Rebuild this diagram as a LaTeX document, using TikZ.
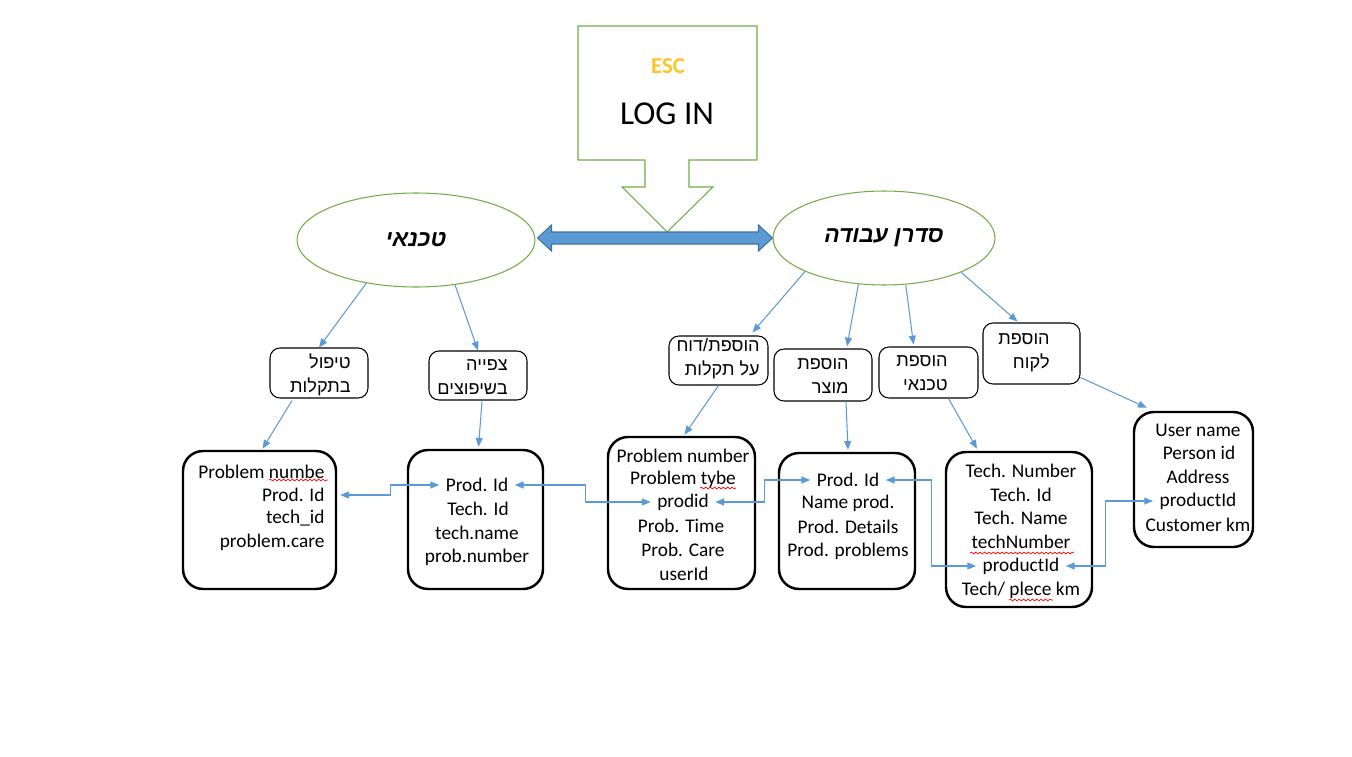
\documentclass[tikz,border=0pt]{standalone}
\usepackage{fontspec}
\setmainfont{Carlito}
\newfontfamily\hebfont[Script=Hebrew]{Liberation Sans}
\TeXXeTstate=1
\newcommand\heb[1]{{\hebfont\beginR #1\endR}}
\usetikzlibrary{shapes.geometric,arrows.meta,calc,fit,decorations.pathmorphing}
\definecolor{escgreen}{HTML}{70AD47}
\definecolor{linkblue}{HTML}{5B9BD5}
\definecolor{darkblue}{HTML}{41719C}
\definecolor{escyellow}{HTML}{FFC425}
\tikzset{
  role/.style={ellipse, draw=escgreen, line width=0.6pt, inner sep=0pt, minimum height=1.88cm, font=\fontsize{13}{16}\selectfont\bfseries\itshape},
  menubox/.style={draw, rounded corners=0.2cm, line width=0.6pt, inner sep=0pt},
  menutext/.style={align=right, inner sep=0pt, font=\fontsize{10.3}{13.5}\selectfont},
  tblbox/.style={draw, rounded corners=0.4cm, line width=1.4pt, inner sep=0pt},
  tblrow/.style={inner xsep=3.5pt, inner ysep=1pt, font=\fontsize{11}{13}\selectfont},
  feed/.style={linkblue, line width=0.6pt, -{Triangle[length=5pt,width=4pt]}},
  link/.style={linkblue, line width=0.6pt, {Triangle[length=5pt,width=4pt]}-{Triangle[length=5pt,width=4pt]}},
  spell/.style={red, line width=0.4pt, decorate, decoration={snake, amplitude=0.5pt, segment length=2.5pt}}
}
\begin{document}
\begin{tikzpicture}[x=0.02cm,y=-0.02cm]
  \useasboundingbox (0,0) rectangle (1352,757);

  %% login callout
  \draw[escgreen, line width=0.6pt] (578,26) -- (757,26) -- (757,160) -- (689,160) -- (689,187)
    -- (713,187) -- (667,232) -- (622,187) -- (645,187) -- (645,160) -- (578,160) -- cycle;
  \node[font=\fontsize{13}{15}\selectfont\bfseries, text=escyellow] (esc) at (668,66) {ESC};
  \node[font=\fontsize{19}{22}\selectfont] (login) at (667,114) {LOG IN};

  %% roles
  \node[role, minimum width=4.76cm] (tech) at (416,240) {\heb{טכנאי}};
  \node[role, minimum width=4.44cm] (disp) at (884,238) {\heb{סדרן עבודה}};

  % double arrow
  \coordinate (la) at ($(tech.east |- disp.west)+(2,0)$);
  \coordinate (ra) at (disp.west);
  \draw[darkblue, fill=linkblue, line width=0.6pt] (la) -- ++(14,-13) -- ++(0,7)
    -- ($(ra)+(-14,-6)$) -- ++(0,-7) -- (ra) -- ++(-14,13) -- ++(0,-7)
    -- ($(la)+(14,6)$) -- ++(0,7) -- cycle;

  %% menu boxes
  \node[menubox, fit={(270,348) (368,398)}] (b1) {};
  \node[menutext, anchor=east] (b1t) at (351,375) {\heb{טיפול}\\\heb{בתקלות}};
  \node[menubox, fit={(429,351) (527,400)}] (b2) {};
  \node[menutext, anchor=east] (b2t) at (508,377) {\heb{צפייה}\\\heb{בשיפוצים}};
  \node[menubox, fit={(669,336) (768,385)}] (b3) {};
  \node[menutext, anchor=east] (b3t) at (760,359) {\heb{הוספת/דוח}\\\heb{על תקלות}};
  \node[menubox, fit={(774,349) (872,401)}] (b4) {};
  \node[menutext, anchor=east] (b4t) at (849,376) {\heb{הוספת}\\\heb{מוצר}};
  \node[menubox, fit={(879,347) (978,398)}] (b5) {};
  \node[menutext, anchor=east] (b5t) at (948,373) {\heb{הוספת}\\\heb{טכנאי}};
  \node[menubox, fit={(983,323) (1080,384)}] (b6) {};
  \node[menutext, anchor=east] (b6t) at (1050,353) {\heb{הוספת}\\\heb{לקוח}};

  \draw[feed] (tech.-139) -- (b1.north);
  \draw[feed] (tech.-49) -- (b2.north);
  \draw[feed] (disp.-157) -- ($(b3.north)+(34,-3)$);
  \draw[feed] (disp.-119) -- ($(b4.north)+(24,-2)$);
  \draw[feed] (disp.-65) -- ($(b5.north)+(-15,-2)$);
  \draw[feed] (disp.-24) -- ($(b6.north)+(-14,-1)$);

  %% tables
  % problems
  \node[tblbox, fit={(183,451) (336,589)}] (t1) {};
  \node[tblrow, anchor=east] (t1r1) at (331,472) {Problem numbe};
  \node[tblrow, anchor=east] (t1r2) at (331,495) {Prod. Id};
  \node[tblrow, anchor=east] (t1r3) at (331,518) {tech\_id};
  \node[tblrow, anchor=east] (t1r4) at (331,542) {problem.care};
  % views
  \node[tblbox, fit={(408,450) (543,589)}] (t2) {};
  \node[tblrow] (t2r1) at (477,485) {Prod. Id};
  \node[tblrow] (t2r2) at (478,509) {Tech. Id};
  \node[tblrow] (t2r3) at (477,533) {tech.name};
  \node[tblrow] (t2r4) at (477,557) {prob.number};
  % reports
  \node[tblbox, fit={(608,437) (755,589)}] (t3) {};
  \node[tblrow] (t3r1) at (683,456) {Problem number};
  \node[tblrow] (t3r2) at (683,479) {Problem tybe};
  \node[tblrow] (t3r3) at (683,502) {prodid};
  \node[tblrow] (t3r4) at (681,526) {Prob. Time};
  \node[tblrow] (t3r5) at (683,550) {Prob. Care};
  \node[tblrow] (t3r6) at (684,574) {userId};
  % products
  \node[tblbox, fit={(779,453) (915,589)}] (t4) {};
  \node[tblrow] (t4r1) at (848,480) {Prod. Id};
  \node[tblrow] (t4r2) at (848,503) {Name prod.};
  \node[tblrow] (t4r3) at (848,527) {Prod. Details};
  \node[tblrow] (t4r4) at (848,551) {Prod. problems};
  % technicians
  \node[tblbox, fit={(946,452) (1092,607)}] (t5) {};
  \node[tblrow] (t5r1) at (1021,471) {Tech. Number};
  \node[tblrow] (t5r2) at (1021,495) {Tech. Id};
  \node[tblrow] (t5r3) at (1021,518) {Tech. Name};
  \node[tblrow] (t5r4) at (1021,542) {techNumber};
  \node[tblrow] (t5r5) at (1021,566) {productId};
  \node[tblrow] (t5r6) at (1021,590) {Tech/ plece km};
  % customers
  \node[tblbox, fit={(1134,412) (1253,547)}] (t6) {};
  \node[tblrow] (t6r1) at (1198,430) {User name};
  \node[tblrow] (t6r2) at (1199,453) {Person id};
  \node[tblrow] (t6r3) at (1198,477) {Address};
  \node[tblrow] (t6r4) at (1198,501) {productId};
  \node[tblrow] (t6r5) at (1198,525) {Customer km};

  % spelling marks
  \draw[spell] (269,480) -- (328,480);
  \draw[spell] (700,488) -- (736,488);
  \draw[spell] (970,553) -- (1074,553);
  \draw[spell] (1009,600) -- (1053,600);

  \draw[feed] ($(b1.south)+(-27,2)$) -- ($(t1.north)+(3,-1)$);
  \draw[feed] ($(b2.south)+(4,1)$) -- ($(t2.north)+(3,-2)$);
  \draw[feed] (b3.south) -- ($(t3.north)+(3,-1)$);
  \draw[feed] ($(b4.south)+(23,0)$) -- ($(t4.north)+(1,-2)$);
  \draw[feed] ($(b5.south)+(20,0)$) -- ($(t5.north)+(-42,-2)$);
  \draw[feed] ($(b6.south east)+(0,-7)$) -- ($(t6.north west)+(14,-3)$);

  %% keys
  \draw[link] ($(t1r2 -| t1.east)+(3,0)$) -- ++(50,0) |- (t2r1.west);
  \draw[link] (t2r1.east) -- ++(71,0) |- (t3r3.west);
  \draw[link] (t3r3.east) -- ++(49,0) |- (t4r1.west);
  \draw[link] (t4r1.east) -- ++(46,0) |- (t5r5.west);
  \draw[link] (t5r5.east) -- ++(40,0) |- (t6r4.west);
\end{tikzpicture}
\end{document}
